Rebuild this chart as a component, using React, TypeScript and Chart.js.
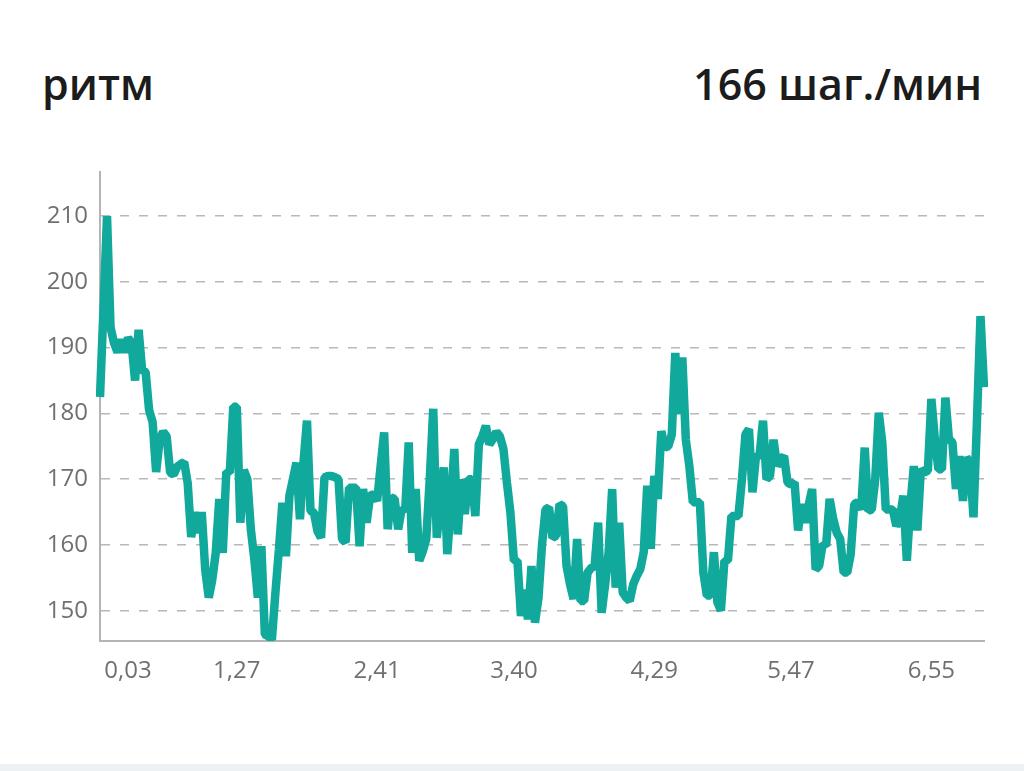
import React, { useEffect, useRef } from "react";
import { Chart, registerables } from "chart.js";

Chart.register(...registerables);

const titleText = "ритм";
const valueText = "166 шаг./мин";

const cadence = [
  182.5, 196, 210, 193.1, 190.7, 189.3, 191.2, 189.3, 191.5, 190.7,
  185, 192.7, 186.6, 186.3, 180.5, 178.7, 171.1, 176, 177.2, 176.5,
  171, 170.7, 171.9, 172.3, 172.6, 169.4, 161.2, 165, 161.8, 165,
  156.2, 152, 154.7, 158.8, 167, 158.8, 171.1, 171, 181, 181,
  163.4, 171.4, 170, 162.4, 157.8, 152, 159.8, 146.4, 146.1, 145.6,
  152.7, 159.3, 166.4, 158.3, 167.5, 170, 172.5, 163.9, 172.5, 178.9,
  165.2, 164.9, 162.1, 161.1, 170.3, 170.5, 170.5, 170.3, 170, 160.9,
  160.4, 168.7, 168.7, 168.7, 159.8, 168.5, 163.4, 167.5, 167.7, 166.7,
  172, 177.1, 162.4, 167.2, 167, 162.4, 165.5, 165.2, 175.6, 158.8,
  168.5, 157.6, 159, 160.9, 170, 180.7, 161.1, 166, 171.8, 158.6,
  165.9, 174.6, 161.6, 170, 164.7, 170, 170, 164.4, 175.3, 176.5,
  178.1, 175.3, 176.1, 177.2, 176.5, 174.6, 169.5, 164.9, 157.6, 157.6,
  149.2, 153.2, 148.7, 156.8, 148.2, 152, 160, 165.4, 165.7, 161.1,
  161.4, 166.2, 165.9, 156.8, 154, 151.8, 160.9, 151.5, 151.5, 155.8,
  156.5, 156.8, 163.4, 149.7, 154, 158.9, 168.5, 153.5, 163.4, 152.8,
  152, 151.5, 154, 155.3, 156.3, 158.9, 169, 159.4, 170.5, 167,
  177.3, 174.8, 175, 176.8, 189.2, 179.9, 188.5, 176, 172, 166.5,
  166.5, 166.5, 155.8, 152.3, 152.3, 158.9, 151.3, 150, 157.6, 157.6,
  164.4, 164.4, 164.4, 170, 176.8, 177.6, 168, 173.5, 173.5, 178.9,
  170, 170.5, 176, 172, 173, 173.5, 169.5, 169.2, 169.5, 162.2,
  166.2, 163.4, 166, 168.5, 156.3, 156.8, 160.1, 159.9, 167, 164,
  161.9, 160.9, 155.8, 155.8, 158.6, 166.2, 166.5, 165.4, 174.8, 165.2,
  165.4, 170, 180.1, 175.6, 165.4, 165.4, 165.4, 162.9, 163.9, 167.5,
  157.6, 166, 172, 162.2, 171.5, 171, 171.3, 182.2, 176, 171.5,
  171.5, 182.4, 176.1, 175.6, 168.5, 173.5, 166.7, 173.3, 172.5, 164.2,
  179, 194.8, 184,
];

const yTicks = [150, 160, 170, 180, 190, 200, 210];
const yMin = 145.4;
const yMax = 216.7;

const xTickLabels = ["0,03", "1,27", "2,41", "3,40", "4,29", "5,47", "6,55"];
const xTickIndex = [8, 39, 79, 118, 158, 197, 237];

const FONT = "'Open Sans', 'Noto Sans', sans-serif";

export default function App() {
  const ref = useRef<HTMLCanvasElement>(null);

  useEffect(() => {
    const labels = cadence.map((_, i) => {
      const k = xTickIndex.indexOf(i);
      return k >= 0 ? xTickLabels[k] : "";
    });
    const chart = new Chart(ref.current as HTMLCanvasElement, {
      type: "line",
      data: {
        labels,
        datasets: [
          {
            data: cadence,
            borderColor: "#10a99b",
            borderWidth: 8.5,
            pointRadius: 0,
            pointHoverRadius: 0,
            tension: 0,
            fill: false,
            borderJoinStyle: "bevel",
            borderCapStyle: "butt",
          },
        ],
      },
      options: {
        animation: false,
        responsive: false,
        maintainAspectRatio: false,
        events: [],
        layout: { padding: { top: 32, right: 40, left: 0, bottom: 0 } },
        plugins: {
          legend: { display: false },
          tooltip: { enabled: false },
          title: { display: false },
        },
        scales: {
          x: {
            type: "category",
            offset: false,
            grid: { display: false, drawTicks: false },
            border: { display: true, color: "#b4b4b4", width: 2 },
            ticks: {
              autoSkip: false,
              maxRotation: 0,
              minRotation: 0,
              padding: 16,
              color: "#707070",
              font: { family: FONT, size: 24 },
            },
            afterFit: (s: any) => {
              s.height = 59;
            },
          },
          y: {
            min: yMin,
            max: yMax,
            afterBuildTicks: (s: any) => {
              s.ticks = yTicks.map((v) => ({ value: v }));
            },
            grid: { color: "#b8b8b8", lineWidth: 1.5, drawTicks: false },
            border: { display: true, color: "#b4b4b4", width: 2, dash: [9, 10] },
            ticks: {
              padding: 12,
              color: "#707070",
              font: { family: FONT, size: 24 },
            },
            afterFit: (s: any) => {
              s.width = 100;
            },
          },
        },
      },
    } as any);
    return () => chart.destroy();
  }, []);

  const headStyle: React.CSSProperties = {
    position: "absolute",
    top: 62,
    fontFamily: FONT,
    fontWeight: 600,
    fontSize: 43,
    lineHeight: 1,
    color: "#1c1c1c",
    whiteSpace: "nowrap",
  };

  return (
    <div
      style={{
        position: "absolute",
        left: 0,
        top: 0,
        width: 1024,
        height: 771,
        background: "#ffffff",
        overflow: "hidden",
      }}
    >
      <div style={{ ...headStyle, left: 42 }}>{titleText}</div>
      <div style={{ ...headStyle, right: 42 }}>{valueText}</div>
      <canvas
        ref={ref}
        width={1024}
        height={560}
        style={{ position: "absolute", left: 0, top: 140, width: 1024, height: 560 }}
      />
      <div
        style={{
          position: "absolute",
          left: 0,
          top: 764,
          width: 1024,
          height: 7,
          background: "#eef1f4",
        }}
      />
    </div>
  );
}
